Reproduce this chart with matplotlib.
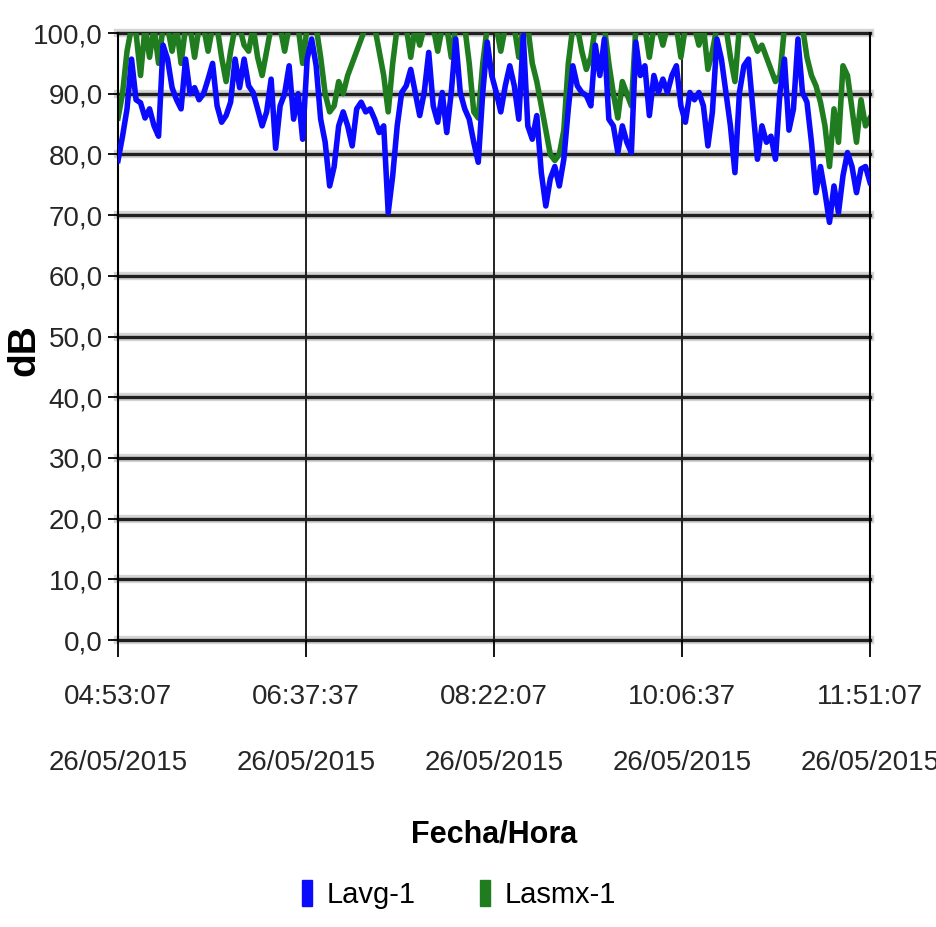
import numpy as np
import pandas as pd
import matplotlib
matplotlib.use("Agg")
import matplotlib.pyplot as plt
from matplotlib.patches import Patch

plt.rcParams['font.family'] = ['Liberation Sans', 'DejaVu Sans']

# sound level readings (dB)
lavg = [79, 83, 87.5, 95.7, 89, 88.5, 86, 87.5, 84.7, 83, 98, 95.7, 91, 89, 87.5, 95.7, 90, 91, 89, 90,
        92.4, 95, 88, 85.3, 86.4, 88.6, 95.7, 91,
        95.7, 91.3, 90.2, 87.5, 84.7, 87, 92.4, 81, 88, 90, 94.6, 85.8, 90, 82.5, 95.7, 99, 94.6, 85.8, 82, 74.8,
        78, 84.7, 87, 84.7, 81.4, 87.5, 88.6, 87,
        87.5, 85.8, 83.6, 84.7, 70.4, 76.5, 84.7, 90.2, 91.3, 94, 90.2, 86.4, 90.2, 96.8, 88, 85.3, 90.2, 83.6,
        90.2, 99, 90.2, 87.5, 85.8, 82, 78.7, 90.2, 98.5, 93,
        90.2, 87, 91.3, 94.6, 91.3, 85.8, 99.6, 84.7, 82.5, 86.4, 77, 71.5, 76, 78, 74.8, 79.2, 87.5, 94.6, 91.3,
        90.2, 89.7, 88, 98, 93, 99, 85.8, 84.7, 80.3, 84.7,
        82, 80.3, 98.5, 93, 94.6, 86.4, 93, 90.2, 92.4, 90.2, 93, 94.6, 88, 85.3, 90.2, 89, 90.2, 88, 81.4, 87,
        99, 95.7, 90.2, 84.7, 77, 90.2, 94.6,
        95.7, 87.5, 79.2, 84.7, 82, 83, 79.2, 90.2, 95.7, 84, 87.5, 99, 90.2, 88.6, 82, 73.7, 78, 73.7, 68.8, 74.8,
        70.4, 76.5, 80.3, 78, 73.7, 77.6, 78, 75.4]

lasmx = [86, 90, 97, 101, 100, 93, 101, 96, 101, 95, 101, 101, 97, 101, 95, 101, 101, 96, 101, 101,
         97, 101, 101, 96, 92, 97, 101, 101,
         98, 97, 101, 96, 93, 97, 101, 101, 101, 97, 101, 101, 101, 95, 101, 101, 101, 96, 90, 87,
         88, 92, 90, 93, 95, 97, 99, 101,
         101, 101, 97, 93, 87, 95, 101, 101, 101, 96, 101, 98, 101, 101, 101, 97, 101, 101, 96, 101,
         101, 101, 95, 87, 86, 95, 101, 101,
         101, 97, 101, 101, 101, 96, 101, 101, 95, 92, 88, 84, 80, 79, 80, 84, 95, 101, 101, 97,
         94, 96, 101, 101, 101, 95, 90, 86, 92,
         90, 88, 101, 101, 101, 96, 101, 101, 98, 101, 101, 101, 96, 101, 101, 101, 98, 101, 94, 97,
         101, 101, 101, 96, 92, 101, 101,
         101, 99, 97, 98, 96, 94, 92, 93, 101, 101, 101, 101, 101, 96, 93, 91.3, 88.6, 84.7, 78, 87.5,
         82, 94.6, 93, 87.5, 82, 89, 84.7, 86]

t_start = "2015-05-26 04:53:07"
t_end = "2015-05-26 11:51:07"
x_ticklabels = ["04:53:07\n26/05/2015", "06:37:37\n26/05/2015", "08:22:07\n26/05/2015",
                "10:06:37\n26/05/2015", "11:51:07\n26/05/2015"]
y_ticks = [0, 10, 20, 30, 40, 50, 60, 70, 80, 90, 100]
y_ticklabels = [("%.1f" % v).replace(".", ",") for v in y_ticks]

times = pd.date_range(t_start, t_end, periods=len(lavg))
tick_pos = pd.to_datetime(x_ticklabels, format="%H:%M:%S\n%d/%m/%Y")

fig = plt.figure(figsize=(9.36, 9.27), dpi=100)
ax = fig.add_axes([0.1261, 0.3096, 0.8034, 0.6548])

# horizontal grid: dark line with a soft grey shadow
for v in y_ticks:
    ax.axhline(v, color='#d4d4d4', lw=6, zorder=1, clip_on=False)
    ax.axhline(v, color='#202020', lw=2.4, zorder=1.5, clip_on=False)
for tp in tick_pos:
    ax.axvline(tp, color='#111111', lw=1.3, zorder=1)

ax.plot(times, lasmx, color='#1f7d1f', lw=4, zorder=2)
ax.plot(times, lavg, color='#0a0aff', lw=4, zorder=3)

ax.set_xlim(times[0], times[-1])
ax.set_ylim(0, 100)
ax.set_yticks(y_ticks, y_ticklabels)
ax.set_xticks(tick_pos, x_ticklabels)
ax.tick_params(axis='y', direction='out', length=7, width=1.3, pad=4, labelsize=20, labelcolor='#262626')
ax.tick_params(axis='x', direction='out', length=12, width=1.3, pad=20, labelsize=20, labelcolor='#262626')
for lab in ax.get_xticklabels():
    lab.set_linespacing(3.0)

for side in ['top', 'bottom']:
    ax.spines[side].set_visible(False)
ax.spines['left'].set_linewidth(1.5)
ax.spines['right'].set_linewidth(1.5)

ax.set_ylabel('dB', fontsize=28, fontweight='bold')
ax.yaxis.set_label_coords(-0.10, 0.478)
ax.set_xlabel('Fecha/Hora', fontsize=22, fontweight='bold')
ax.xaxis.set_label_coords(0.5, -0.295)

handles = [Patch(color='#0a0aff'), Patch(color='#1f7d1f')]
fig.legend(handles, ['Lavg-1', 'Lasmx-1'], loc='center', bbox_to_anchor=(0.49, 0.035), ncol=2,
           frameon=False, fontsize=21, handlelength=0.35, handleheight=1.0, handletextpad=0.5,
           columnspacing=2.2)

fig.savefig('out.png', dpi=100)
